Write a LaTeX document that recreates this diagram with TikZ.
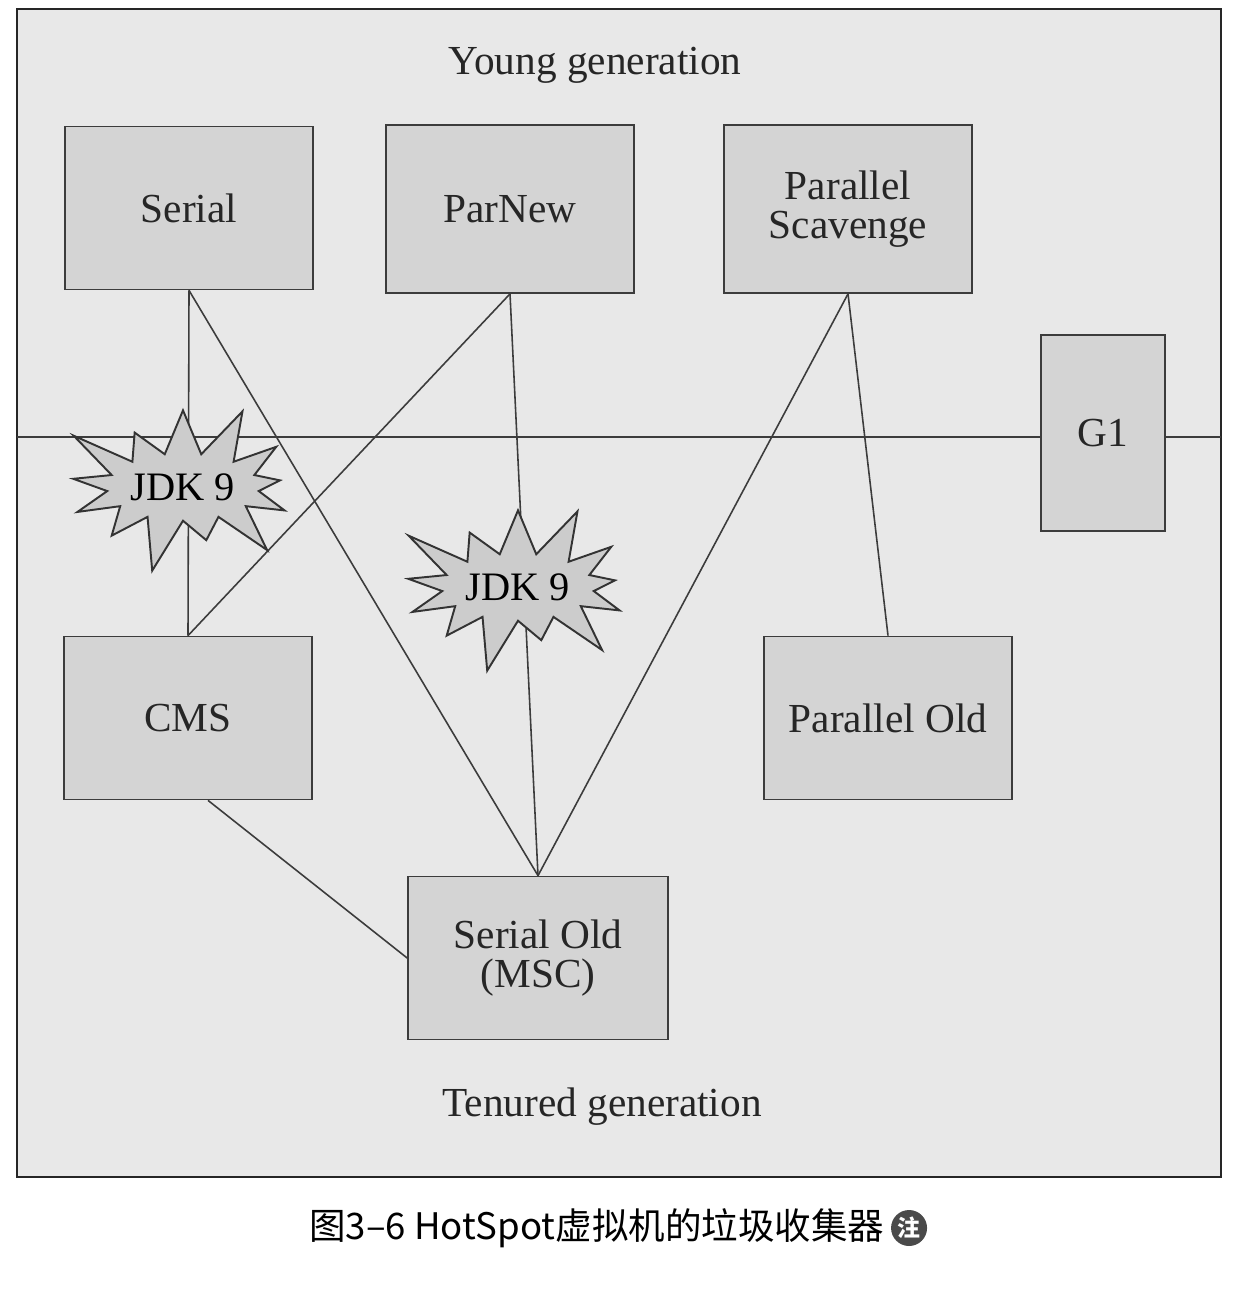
\documentclass[tikz,border=0pt]{standalone}
\usepackage{fontspec}
\setmainfont{Liberation Serif}
\newfontfamily\cjkfont{Noto Sans CJK SC}
\usepackage{tikz}
\usetikzlibrary{shapes.symbols, positioning, calc}
\definecolor{cBack}{RGB}{232,232,232}
\definecolor{cBox}{RGB}{212,212,212}
\definecolor{cStar}{RGB}{204,204,204}
\definecolor{cLine}{RGB}{60,60,60}
\definecolor{cNote}{RGB}{74,74,74}
\tikzset{
	gcbox/.style={rectangle, draw=cLine, line width=1pt, fill=cBox, minimum width=4.96cm, minimum height=3.26cm, align=center, font=\fontsize{23.5}{26}\selectfont, text=black!85},
	jdkstar/.style={starburst, starburst points=13, starburst point height=1.2cm, draw=black!80, line width=1.1pt, fill=cStar, font=\fontsize{23}{26}\selectfont, inner sep=1pt, minimum width=4.65cm, minimum height=3.75cm},
	link/.style={draw=cLine, line width=0.9pt},
	genlabel/.style={font=\fontsize{23.5}{26}\selectfont, text=black!85},
}
\begin{document}
\begin{tikzpicture}[x=0.02cm, y=-0.02cm]
	\useasboundingbox (0,0) rectangle (1252,1290);
	% frame and generations
	\draw[fill=cBack, draw=black!85, line width=1.1pt] (17,9) rectangle (1221,1177);
	\node[genlabel] (young) at (595,65) {Young generation};
	\node[genlabel] (tenured) at (602,1107) {Tenured generation};
	% collectors
	\node[gcbox] (serial) at (189,208) {Serial};
	\node[gcbox, minimum height=3.36cm] (parnew) at (510,209) {ParNew};
	\node[gcbox, minimum height=3.36cm] (pscav) at (848,209) {Parallel\\[-4pt]Scavenge};
	\node[gcbox, minimum width=2.48cm, minimum height=3.92cm] (g1) at (1103,433) {G1};
	\node[gcbox] (cms) at (188,718) {CMS};
	\node[gcbox] (pold) at (888,718) {Parallel Old};
	\node[gcbox, minimum width=5.2cm] (sold) at (538,958) {Serial Old\\[-4pt](MSC)};
	% boundary line
	\coordinate (lineL) at (17,437);
	\coordinate (lineR) at (1221,437);
	\draw[link] (lineL) -- (lineL -| g1.west);
	\draw[link] (lineL -| g1.east) -- (lineR);
	% combinations
	\draw[link] (serial.south) -- (cms.north);
	\draw[link] (serial.south) -- (sold.north);
	\draw[link] (parnew.south) -- (cms.north);
	\draw[link] (parnew.south) -- (sold.north);
	\draw[link] (pscav.south) -- (sold.north);
	\draw[link] (pscav.south) -- (pold.north);
	\draw[link] ($(cms.south)+(20,0)$) -- (sold.west);
	% removed in JDK 9
	\node[jdkstar] (jdkA) at (183,487) {JDK 9};
	\node[jdkstar] (jdkB) at (518,587) {JDK 9};
	% caption
	\node[font=\cjkfont\fontsize{20.8}{24}\selectfont, anchor=west] (caption) at (303,1228) {图3–6 HotSpot虚拟机的垃圾收集器};
	\node[circle, fill=cNote, minimum size=0.72cm, inner sep=0pt, text=white, font=\cjkfont\bfseries\fontsize{13}{14}\selectfont, right=0cm of caption] (note) {注};
\end{tikzpicture}
\end{document}
